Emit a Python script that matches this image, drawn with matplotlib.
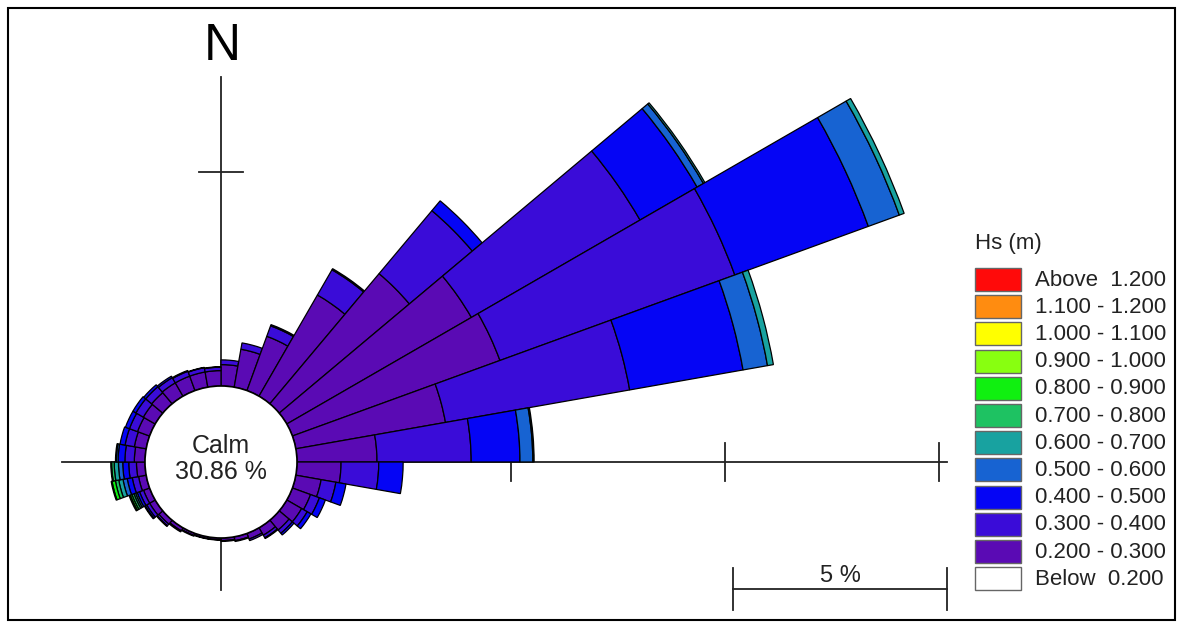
import numpy as np
import matplotlib
matplotlib.use("Agg")
from matplotlib import pyplot as plt
from matplotlib.patches import Wedge, Circle, Rectangle

plt.rcParams['font.family'] = ['Liberation Sans', 'DejaVu Sans']

# direction sectors, 10 degree bins starting at north, clockwise
dir_start = np.arange(0, 360, 10)

# percentage of time per sector for each Hs class
hs_020_030 = [0.50, 0.90, 1.35, 2.73, 3.97, 4.98, 5.16, 3.55, 1.87, 1.03, 0.60, 0.45,
              0.40, 0.30, 0.20, 0.14, 0.09, 0.06, 0.04, 0.04, 0.05, 0.08, 0.12, 0.15,
              0.15, 0.18, 0.20, 0.25, 0.28, 0.30, 0.32, 0.34, 0.36, 0.36, 0.36, 0.36]
hs_030_040 = [0.11, 0.15, 0.26, 0.68, 1.92, 4.55, 5.84, 4.37, 2.20, 0.88, 0.35, 0.22,
              0.15, 0.10, 0.07, 0.04, 0.02, 0.02, 0.01, 0.01, 0.02, 0.03, 0.05, 0.08,
              0.10, 0.15, 0.18, 0.22, 0.22, 0.20, 0.20, 0.18, 0.14, 0.12, 0.10, 0.08]
hs_040_050 = [0.00, 0.00, 0.03, 0.03, 0.30, 1.54, 3.32, 2.69, 1.14, 0.57, 0.24, 0.15,
              0.10, 0.05, 0.02, 0.00, 0.00, 0.00, 0.00, 0.00, 0.00, 0.00, 0.02, 0.04,
              0.06, 0.12, 0.14, 0.16, 0.12, 0.10, 0.08, 0.06, 0.04, 0.02, 0.01, 0.01]
hs_050_060 = [0, 0, 0, 0, 0, 0.17, 0.77, 0.58, 0.30, 0, 0, 0,
              0, 0, 0, 0, 0, 0, 0, 0, 0, 0, 0, 0.02,
              0.04, 0.10, 0.10, 0.04, 0, 0, 0, 0, 0, 0, 0, 0]
hs_060_070 = [0, 0, 0, 0, 0, 0.04, 0.12, 0.14, 0.03, 0, 0, 0,
              0, 0, 0, 0, 0, 0, 0, 0, 0, 0, 0, 0,
              0.04, 0.10, 0.10, 0.02, 0, 0, 0, 0, 0, 0, 0, 0]
hs_070_080 = [0] * 24 + [0.05, 0.08, 0.06] + [0] * 9
hs_080_090 = [0] * 24 + [0.04, 0.08, 0.02] + [0] * 9
hs_090_100 = [0] * 24 + [0.03, 0.02, 0.00] + [0] * 9
hs_100_110 = [0] * 36
hs_110_120 = [0] * 36
hs_above_120 = [0] * 36

calm_pct = 30.86

classes = [hs_020_030, hs_030_040, hs_040_050, hs_050_060, hs_060_070, hs_070_080,
           hs_080_090, hs_090_100, hs_100_110, hs_110_120, hs_above_120]
class_colors = ['#5a0ab4', '#3a0cd8', '#0505f5', '#1763d2', '#18a2a0', '#1ec262',
                '#10f010', '#88ff10', '#ffff00', '#ff8c10', '#ff0a0a']

legend_labels = ['Above  1.200', '1.100 - 1.200', '1.000 - 1.100', '0.900 - 1.000',
                 '0.800 - 0.900', '0.700 - 0.800', '0.600 - 0.700', '0.500 - 0.600',
                 '0.400 - 0.500', '0.300 - 0.400', '0.200 - 0.300', 'Below  0.200']
legend_colors = class_colors[::-1] + ['white']

W, H = 1181, 624
fig = plt.figure(figsize=(W / 100, H / 100), dpi=100)

# rose axes: 1 data unit = 1 %
px = 42.8
cx, cy = 221, 462
calm_r = 76 / px
ax = fig.add_axes([0, 0, 1, 1])
ax.set_xlim(-cx / px, (W - cx) / px)
ax.set_ylim(-(H - cy) / px, cy / px)
ax.axis('off')

# axis lines and ticks (under the bars)
lc = '#222222'
ax.plot([0, 0], [-(590 - cy) / px, (cy - 77) / px], color=lc, lw=1.3, zorder=1)
ax.plot([-(cx - 62) / px, (947 - cx) / px], [0, 0], color=lc, lw=1.3, zorder=1)
for t in [5, 10, 15]:
    ax.plot([calm_r + t, calm_r + t], [-0.45, 0.45], color=lc, lw=1.3, zorder=1)
ax.plot([-0.52, 0.52], [calm_r + 5, calm_r + 5], color=lc, lw=1.3, zorder=1)

# stacked sectors
for i, d in enumerate(dir_start):
    r = calm_r
    for vals, col in zip(classes, class_colors):
        v = vals[i]
        if v <= 0:
            continue
        w = Wedge((0, 0), r + v, 90 - (d + 10), 90 - d, width=v,
                  facecolor=col, edgecolor='black', lw=0.9, zorder=3)
        ax.add_patch(w)
        r += v

ax.add_patch(Circle((0, 0), calm_r, facecolor='white', edgecolor='black', lw=1.2, zorder=4))
ax.text(0, 0.38, 'Calm', ha='center', va='center', fontsize=18, color='#222222', zorder=5)
ax.text(0, -0.24, '%.2f %%' % calm_pct, ha='center', va='center', fontsize=18,
        color='#222222', zorder=5)

# overlay in pixel units for frame, labels, legend, scale bar
ov = fig.add_axes([0, 0, 1, 1], facecolor='none')
ov.set_xlim(0, W)
ov.set_ylim(H, 0)
ov.axis('off')
ov.add_patch(Rectangle((8, 8), 1167, 612, fill=False, edgecolor='black', lw=1.5))
ov.text(222, 47, 'N', ha='center', va='center', fontsize=37, color='black')

# scale bar
ov.plot([733, 947], [589, 589], color=lc, lw=1.3)
ov.plot([733, 733], [568, 610], color=lc, lw=1.3)
ov.plot([947, 947], [568, 610], color=lc, lw=1.3)
ov.text(840, 576, '5 %', ha='center', va='center', fontsize=17, color='#222222')

# legend
ov.text(975, 243, 'Hs (m)', ha='left', va='center', fontsize=16, color='#222222')
for k, (lab, col) in enumerate(zip(legend_labels, legend_colors)):
    y0 = 268 + k * 27.2
    ov.add_patch(Rectangle((975, y0), 46, 23, facecolor=col, edgecolor='#666666', lw=1))
    ov.text(1035, y0 + 12, lab, ha='left', va='center', fontsize=16, color='#222222')

fig.savefig('out.png', dpi=100)
